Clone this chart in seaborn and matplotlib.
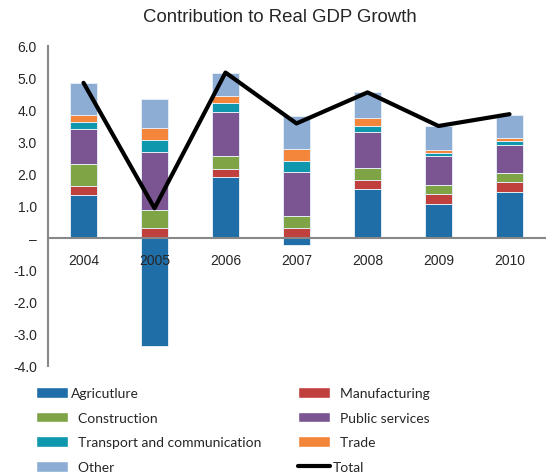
import numpy as np
import pandas as pd
import matplotlib
matplotlib.use("Agg")
import matplotlib.pyplot as plt
import seaborn as sns
from matplotlib.patches import Patch
from matplotlib.lines import Line2D

years = ["2004", "2005", "2006", "2007", "2008", "2009", "2010"]
agriculture = [1.35, -3.38, 1.92, -0.21, 1.54, 1.06, 1.43]
manufacturing = [0.26, 0.32, 0.25, 0.32, 0.28, 0.33, 0.33]
construction = [0.70, 0.56, 0.40, 0.38, 0.38, 0.27, 0.26]
public_services = [1.11, 1.80, 1.36, 1.35, 1.10, 0.89, 0.88]
transport = [0.21, 0.39, 0.29, 0.37, 0.21, 0.10, 0.14]
trade = [0.22, 0.37, 0.22, 0.37, 0.23, 0.10, 0.07]
other = [0.99, 0.89, 0.71, 1.02, 0.81, 0.74, 0.74]
total = [4.85, 0.93, 5.17, 3.58, 4.55, 3.50, 3.87]

series_names = ["Agricutlure", "Manufacturing", "Construction", "Public services",
                "Transport and communication", "Trade", "Other"]
series_values = [agriculture, manufacturing, construction, public_services,
                 transport, trade, other]
colors = ["#1f6ea8", "#c0403e", "#7ea446", "#7a5591", "#0f97ad", "#f3863a", "#8dadd5"]

y_ticks = [6, 5, 4, 3, 2, 1, 0, -1, -2, -3, -4]
y_labels = ["6.0", "5.0", "4.0", "3.0", "2.0", "1.0", "\u2013", "-1.0", "-2.0", "-3.0", "-4.0"]

sns.set_style("white")
plt.rcParams['font.family'] = ['Liberation Sans', 'DejaVu Sans']

fig = plt.figure(figsize=(5.46, 4.77), dpi=100)
ax = fig.add_axes([48 / 546, 1 - 367 / 477, 497 / 546, 320 / 477])

pos_base = np.zeros(len(years))
neg_base = np.zeros(len(years))
for name, vals, col in zip(series_names, series_values, colors):
    v = np.array(vals, dtype=float)
    bottom = np.where(v >= 0, pos_base, neg_base)
    sns.barplot(x=years, y=v, order=years, color=col, saturation=1, width=0.39,
                bottom=bottom, edgecolor="#e4ecf4", linewidth=0.7,
                errorbar=None, ax=ax)
    pos_base = pos_base + np.where(v >= 0, v, 0)
    neg_base = neg_base + np.where(v < 0, v, 0)

sns.pointplot(x=years, y=total, order=years, color="black", markers="",
              linewidth=3, errorbar=None, ax=ax)
for ln in ax.lines:
    ln.set_zorder(6)

ax.set_xlim(-0.5, 6.5)
ax.set_ylim(-4, 6)
ax.set_yticks(y_ticks)
ax.set_yticklabels(y_labels, fontsize=10)
ax.set_xticks(range(len(years)))
ax.set_xticklabels(years, fontsize=10)
ax.set_xticks(np.arange(0.5, 6.0, 1.0), minor=True)
ax.tick_params(axis="x", which="major", length=0, pad=11)
ax.tick_params(axis="x", which="minor", length=4, width=1.2, color="#888888", direction="out")
ax.tick_params(axis="y", length=5, width=1.2, color="#888888", direction="out", pad=3)
for s in ["top", "right"]:
    ax.spines[s].set_visible(False)
ax.spines["bottom"].set_position(("data", 0))
for s in ["bottom", "left"]:
    ax.spines[s].set_color("#888888")
    ax.spines[s].set_linewidth(1.5)
    ax.spines[s].set_zorder(5)
ax.xaxis.set_zorder(5)
ax.yaxis.set_zorder(5)
ax.set_xlabel("")
ax.set_ylabel("")

fig.text(280 / 546, 1 - 17 / 477, "Contribution to Real GDP Growth", ha="center",
         va="center", fontsize=13.4)

left_handles = [Patch(facecolor=colors[i]) for i in [0, 2, 4, 6]]
left_labels = [series_names[0], "  " + series_names[2], "  " + series_names[4], "  " + series_names[6]]
right_handles = [Patch(facecolor=colors[i]) for i in [1, 3, 5]] + [Line2D([], [], color="black", linewidth=3)]
right_labels = ["  " + series_names[1], "  " + series_names[3], "  " + series_names[5], "Total"]

leg_kw = dict(frameon=False, handlelength=2.3, handleheight=0.8, handletextpad=0.2,
              labelspacing=0.9, borderaxespad=0, borderpad=0,
              prop={"family": ["Lato", "DejaVu Sans"], "size": 10})
fig.legend(left_handles, left_labels, loc="upper left",
           bbox_to_anchor=(36 / 546, 1 - 388 / 477), **leg_kw)
fig.legend(right_handles, right_labels, loc="upper left",
           bbox_to_anchor=(298 / 546, 1 - 388 / 477), **leg_kw)

fig.savefig("out.png", dpi=100)
